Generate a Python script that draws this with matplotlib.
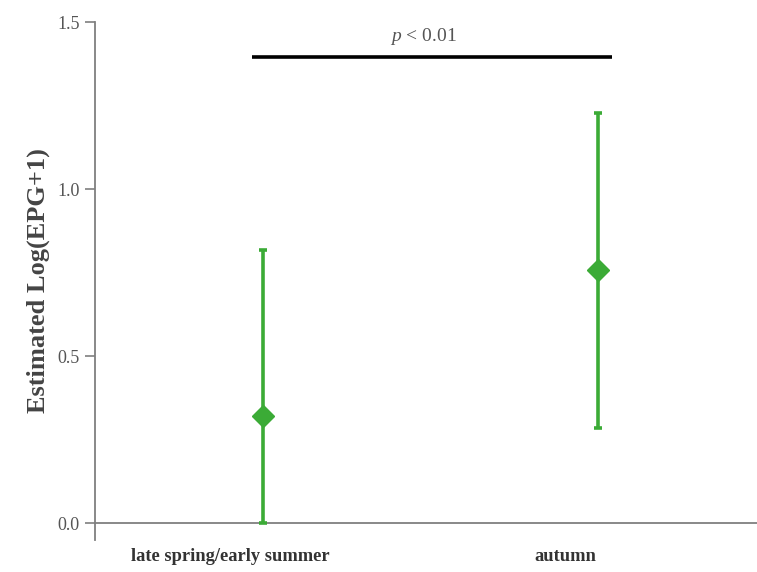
import matplotlib
matplotlib.use("Agg")
import matplotlib.pyplot as plt
import matplotlib.transforms as mtransforms
import numpy as np

categories = ["late spring/early summer", "autumn"]
estimates = [0.32, 0.757]
lower = [0.0, 0.284]
upper = [0.817, 1.228]
yticks = [0.0, 0.5, 1.0, 1.5]
sig_y = 1.395
sig_label = "$\\it{p}$ < 0.01"

plt.rcParams['font.family'] = ['Liberation Serif', 'DejaVu Serif']
plt.rcParams['mathtext.fontset'] = 'custom'
plt.rcParams['mathtext.it'] = 'Liberation Serif:italic'
plt.rcParams['mathtext.rm'] = 'Liberation Serif'

fig = plt.figure(figsize=(7.57, 5.72), dpi=100)
ax = fig.add_axes([0.1255, 0.056, 0.8745, 0.9055])

x = np.arange(len(categories))
est = np.array(estimates)
yerr = np.vstack([est - np.array(lower), np.array(upper) - est])
green = "#3bab36"
ax.errorbar(x, est, yerr=yerr, fmt='D', color=green, ecolor=green,
            elinewidth=2.6, capsize=3, capthick=2.6, markersize=11, zorder=3)

ax.set_xlim(-0.5, 1.475)
ax.set_ylim(-0.05, 1.5)
ax.spines['top'].set_visible(False)
ax.spines['right'].set_visible(False)
ax.spines['bottom'].set_position(('data', 0))
for s in ['left', 'bottom']:
    ax.spines[s].set_color('#7f7f7f')
    ax.spines[s].set_linewidth(1.3)

ax.set_yticks(yticks)
ax.set_yticklabels([f"{v:.1f}" for v in yticks], fontsize=13, color='#555555')
ax.tick_params(axis='y', direction='out', length=7, width=1.2, color='#7f7f7f', pad=4)
ax.set_xticks(x)
ax.set_xticklabels(categories, fontsize=13.3, fontweight='bold', color='#333333')
ax.tick_params(axis='x', length=0, pad=18)
offset = mtransforms.ScaledTranslation(-32 / 100, 0, fig.dpi_scale_trans)
for lbl in ax.get_xticklabels():
    lbl.set_transform(lbl.get_transform() + offset)

ax.set_ylabel("Estimated Log(EPG+1)", fontsize=19, fontweight='bold', color='#444444', labelpad=5)

ax.plot([-0.033, 1.042], [sig_y, sig_y], color='black', linewidth=2.6, solid_capstyle='butt')
ax.text(0.48, sig_y + 0.03, sig_label, ha='center', va='bottom',
        fontsize=14, color='#555555')

fig.savefig("out.png", dpi=100)
